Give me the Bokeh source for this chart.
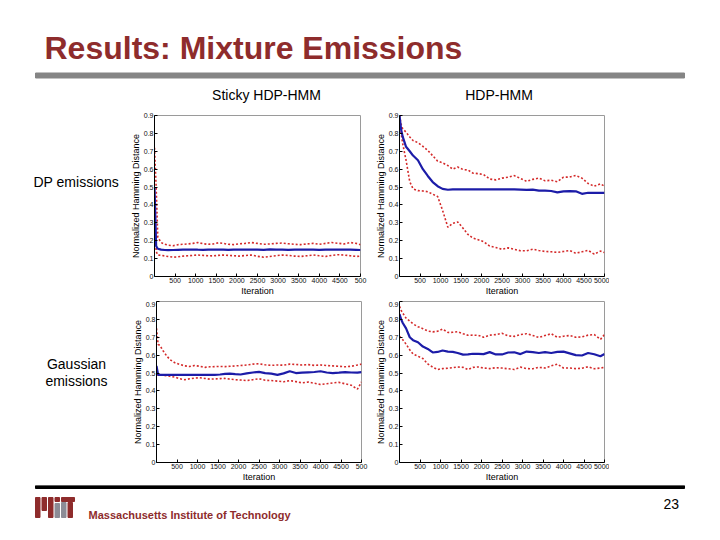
from bokeh.plotting import figure
from bokeh.layouts import column, row
from bokeh.models import Range1d, FixedTicker, ColumnDataSource, NumeralTickFormatter
from bokeh.embed import file_html
from bokeh.resources import INLINE
from bokeh.core.properties import value

# ---------------- data ----------------
iters = [0, 40, 80, 160, 250, 330, 450, 570, 690, 810, 930, 1050, 1180, 1300, 1420,
         1550, 1670, 1790, 1920, 2050, 2200, 2350, 2500, 2650, 2800, 2950, 3100, 3250,
         3400, 3550, 3700, 3850, 4000, 4150, 4300, 4450, 4600, 4750, 4900, 5000]

# Sticky HDP-HMM, DP emissions
sticky_dp_upper = [0.72, 0.50, 0.22, 0.19, 0.18, 0.175, 0.172, 0.178, 0.18, 0.182,
                   0.185, 0.19, 0.183, 0.18, 0.182, 0.188, 0.185, 0.18, 0.178, 0.183,
                   0.185, 0.19, 0.185, 0.18, 0.182, 0.185, 0.187, 0.183, 0.18, 0.178,
                   0.182, 0.185, 0.18, 0.185, 0.19, 0.186, 0.182, 0.19, 0.185, 0.178]
sticky_dp_median = [0.50, 0.17, 0.155, 0.15, 0.148, 0.147, 0.148, 0.149, 0.15, 0.15,
                    0.151, 0.15, 0.149, 0.15, 0.15, 0.151, 0.15, 0.149, 0.15, 0.15,
                    0.151, 0.15, 0.15, 0.149, 0.152, 0.15, 0.15, 0.149, 0.15, 0.15,
                    0.151, 0.15, 0.149, 0.15, 0.15, 0.151, 0.15, 0.15, 0.149, 0.148]
sticky_dp_lower = [0.45, 0.14, 0.12, 0.118, 0.115, 0.112, 0.108, 0.11, 0.114, 0.116,
                   0.118, 0.12, 0.118, 0.116, 0.115, 0.118, 0.12, 0.118, 0.116, 0.114,
                   0.117, 0.12, 0.113, 0.108, 0.112, 0.116, 0.12, 0.118, 0.114, 0.112,
                   0.116, 0.12, 0.116, 0.112, 0.118, 0.122, 0.12, 0.116, 0.112, 0.114]

# HDP-HMM, DP emissions
hdp_dp_upper = [0.90, 0.85, 0.825, 0.807, 0.78, 0.76, 0.748, 0.728, 0.705, 0.675,
                0.645, 0.635, 0.62, 0.60, 0.612, 0.598, 0.595, 0.578, 0.575, 0.57,
                0.545, 0.54, 0.55, 0.555, 0.564, 0.548, 0.532, 0.543, 0.55, 0.535,
                0.538, 0.53, 0.555, 0.556, 0.565, 0.55, 0.52, 0.505, 0.518, 0.505]
hdp_dp_median = [0.90, 0.82, 0.78, 0.725, 0.70, 0.676, 0.65, 0.60, 0.562, 0.528,
                 0.505, 0.49, 0.485, 0.487, 0.487, 0.487, 0.487, 0.487, 0.487, 0.487,
                 0.487, 0.487, 0.487, 0.487, 0.487, 0.486, 0.484, 0.486, 0.48, 0.48,
                 0.478, 0.47, 0.476, 0.477, 0.476, 0.462, 0.468, 0.468, 0.467, 0.468]
hdp_dp_lower = [0.90, 0.80, 0.74, 0.65, 0.53, 0.49, 0.48, 0.478, 0.474, 0.46,
                0.447, 0.37, 0.275, 0.297, 0.305, 0.27, 0.235, 0.215, 0.205, 0.195,
                0.17, 0.162, 0.152, 0.16, 0.152, 0.144, 0.144, 0.153, 0.145, 0.14,
                0.138, 0.135, 0.14, 0.145, 0.13, 0.138, 0.146, 0.125, 0.142, 0.134]

# Sticky HDP-HMM, Gaussian emissions
sticky_g_upper = [0.75, 0.66, 0.655, 0.625, 0.595, 0.575, 0.557, 0.548, 0.54, 0.537,
                  0.542, 0.538, 0.532, 0.535, 0.536, 0.537, 0.536, 0.538, 0.54, 0.542,
                  0.545, 0.55, 0.552, 0.546, 0.543, 0.545, 0.544, 0.55, 0.548, 0.545,
                  0.547, 0.543, 0.545, 0.542, 0.54, 0.538, 0.535, 0.538, 0.545, 0.55]
sticky_g_median = [0.54, 0.49, 0.49, 0.49, 0.49, 0.49, 0.49, 0.49, 0.49, 0.49,
                   0.49, 0.49, 0.49, 0.49, 0.49, 0.492, 0.495, 0.497, 0.494, 0.492,
                   0.498, 0.503, 0.507, 0.5, 0.497, 0.49, 0.498, 0.51, 0.5, 0.502,
                   0.504, 0.506, 0.51, 0.503, 0.5, 0.502, 0.505, 0.503, 0.502, 0.505]
sticky_g_lower = [0.49, 0.49, 0.488, 0.488, 0.485, 0.482, 0.477, 0.468, 0.463, 0.468,
                  0.472, 0.474, 0.47, 0.466, 0.467, 0.469, 0.47, 0.466, 0.463, 0.461,
                  0.458, 0.463, 0.468, 0.46, 0.458, 0.455, 0.451, 0.458, 0.452, 0.445,
                  0.45, 0.443, 0.436, 0.44, 0.445, 0.448, 0.44, 0.432, 0.41, 0.45]

# HDP-HMM, Gaussian emissions
hdp_g_upper = [0.873, 0.85, 0.835, 0.807, 0.79, 0.775, 0.759, 0.748, 0.735, 0.73,
               0.734, 0.746, 0.727, 0.728, 0.731, 0.72, 0.711, 0.712, 0.711, 0.70,
               0.712, 0.715, 0.722, 0.708, 0.705, 0.715, 0.72, 0.71, 0.699, 0.71,
               0.72, 0.70, 0.706, 0.71, 0.70, 0.702, 0.712, 0.715, 0.688, 0.715]
hdp_g_median = [0.83, 0.80, 0.78, 0.75, 0.70, 0.684, 0.672, 0.648, 0.635, 0.615,
                0.618, 0.626, 0.62, 0.618, 0.612, 0.603, 0.604, 0.608, 0.607, 0.606,
                0.617, 0.604, 0.604, 0.615, 0.616, 0.606, 0.62, 0.617, 0.612, 0.617,
                0.612, 0.618, 0.62, 0.61, 0.60, 0.598, 0.612, 0.605, 0.594, 0.606]
hdp_g_lower = [0.705, 0.695, 0.686, 0.662, 0.63, 0.607, 0.594, 0.581, 0.551, 0.533,
               0.52, 0.525, 0.527, 0.53, 0.534, 0.532, 0.52, 0.532, 0.534, 0.528,
               0.525, 0.53, 0.528, 0.524, 0.52, 0.533, 0.525, 0.524, 0.532, 0.528,
               0.54, 0.55, 0.528, 0.528, 0.525, 0.527, 0.535, 0.524, 0.528, 0.532]

x_ticks = [500, 1000, 1500, 2000, 2500, 3000, 3500, 4000, 4500, 5000]
y_ticks = [0, 0.1, 0.2, 0.3, 0.4, 0.5, 0.6, 0.7, 0.8, 0.9]

slide_title = "Results: Mixture Emissions"
col_titles = ["Sticky HDP-HMM", "HDP-HMM"]
row_title_1 = "DP emissions"
row_title_2 = ["Gaussian", "emissions"]
x_label = "Iteration"
y_label = "Normalized Hamming Distance"
footer_text = "Massachusetts Institute of Technology"
page_number = "23"

# ---------------- styles ----------------
FONT = "Liberation Sans"
DARKRED = "#8e2c2c"
RED = "#d42a2a"
BLUE = "#1c1ca8"


def canvas(w, y_top, y_bottom):
    c = figure(width=w, height=y_bottom - y_top, x_range=Range1d(0, w),
               y_range=Range1d(y_bottom, y_top), min_border=0,
               x_axis_location=None, y_axis_location=None,
               output_backend="svg", toolbar_location=None)
    c.grid.visible = False
    c.outline_line_color = None
    c.background_fill_color = "white"
    c.border_fill_color = "white"
    return c


def txt(c, x, y, s, size, color="black", style="normal", align="left"):
    c.text(x=[x], y=[y], text=[s], text_font=value(FONT), text_font_size=size,
           text_font_style=style, text_color=color, text_align=align,
           text_baseline="middle")


def chart(upper, median, lower, fw, bl, br, bt, bb, last_label):
    p = figure(frame_width=fw, frame_height=161,
               x_range=Range1d(0, 5000), y_range=Range1d(0, 0.9),
               min_border_left=bl, min_border_right=br,
               min_border_top=bt, min_border_bottom=bb,
               output_backend="svg", toolbar_location=None)
    p.grid.visible = False
    p.outline_line_color = "#9a9a9a"
    p.background_fill_color = "white"
    p.border_fill_color = "white"
    src = ColumnDataSource(dict(x=iters, u=upper, m=median, l=lower))
    p.line("x", "u", source=src, line_color=RED, line_width=1.6, line_dash="2 2")
    p.line("x", "l", source=src, line_color=RED, line_width=1.6, line_dash="2 2")
    p.line("x", "m", source=src, line_color=BLUE, line_width=2.2)

    xa = p.xaxis[0]
    ya = p.yaxis[0]
    xa.ticker = FixedTicker(ticks=x_ticks)
    xa.major_label_overrides = {5000: last_label}
    ya.ticker = FixedTicker(ticks=y_ticks)
    ya.formatter = NumeralTickFormatter(format="0.[0]")
    xa.axis_label = x_label
    ya.axis_label = y_label
    for ax in (xa, ya):
        ax.major_tick_in = 3
        ax.major_tick_out = 0
        ax.minor_tick_line_color = None
        ax.axis_line_color = "black"
        ax.major_tick_line_color = "black"
        ax.major_label_text_font = FONT
        ax.major_label_text_font_size = "7px"
        ax.major_label_text_color = "#111111"
        ax.major_label_standoff = 1
        ax.axis_label_text_font = FONT
        ax.axis_label_text_font_size = "9px"
        ax.axis_label_text_font_style = "normal"
        ax.axis_label_text_color = "black"
        ax.axis_label_standoff = 0
    return p


# header
header = canvas(720, 0, 108)
txt(header, 44, 47.5, slide_title, "32px", DARKRED, "bold")
header.quad(left=[35], right=[684], top=[72.5], bottom=[77.5], color="#858585")
txt(header, 266, 94.5, col_titles[0], "14px", align="center")
txt(header, 498.5, 94.5, col_titles[1], "14px", align="center")

# row 1
lab1 = canvas(127, 108, 301)
txt(lab1, 33, 188, row_title_1, "14px")
p1 = chart(sticky_dp_upper, sticky_dp_median, sticky_dp_lower, 206, 26, 12, 7, 25, "500")
p2 = chart(hdp_dp_upper, hdp_dp_median, hdp_dp_lower, 205, 26, 5, 7, 25, "5000")

# row 2
lab2 = canvas(129, 301, 485)
txt(lab2, 76, 372, row_title_2[0], "14px", align="center")
txt(lab2, 76, 391, row_title_2[1], "14px", align="center")
p3 = chart(sticky_g_upper, sticky_g_median, sticky_g_lower, 205, 26, 11, 0, 22, "500")
p4 = chart(hdp_g_upper, hdp_g_median, hdp_g_lower, 205, 26, 5, 0, 22, "5000")

# footer
footer = canvas(720, 485, 540)
footer.quad(left=[35], right=[684], top=[485], bottom=[488], color="black")
footer.quad(left=[35, 41.5, 48, 54.5, 61, 61, 67.5], right=[39.5, 46, 52.5, 59, 74, 65.5, 72],
            top=[497, 497, 497, 497, 497, 502, 502], bottom=[517, 510, 517, 501, 501, 517, 517],
            color=[DARKRED, DARKRED, DARKRED, DARKRED, DARKRED, "#8c8c96", DARKRED])
footer.quad(left=[54.5], right=[59], top=[503], bottom=[517], color="#8c8c96")
txt(footer, 88, 514, footer_text, "11px", DARKRED, "bold")
txt(footer, 663, 503, page_number, "14px")

page = column(header, row(lab1, p1, p2), row(lab2, p3, p4), footer)

with open("out.html", "w") as f:
    f.write(file_html(page, INLINE))
